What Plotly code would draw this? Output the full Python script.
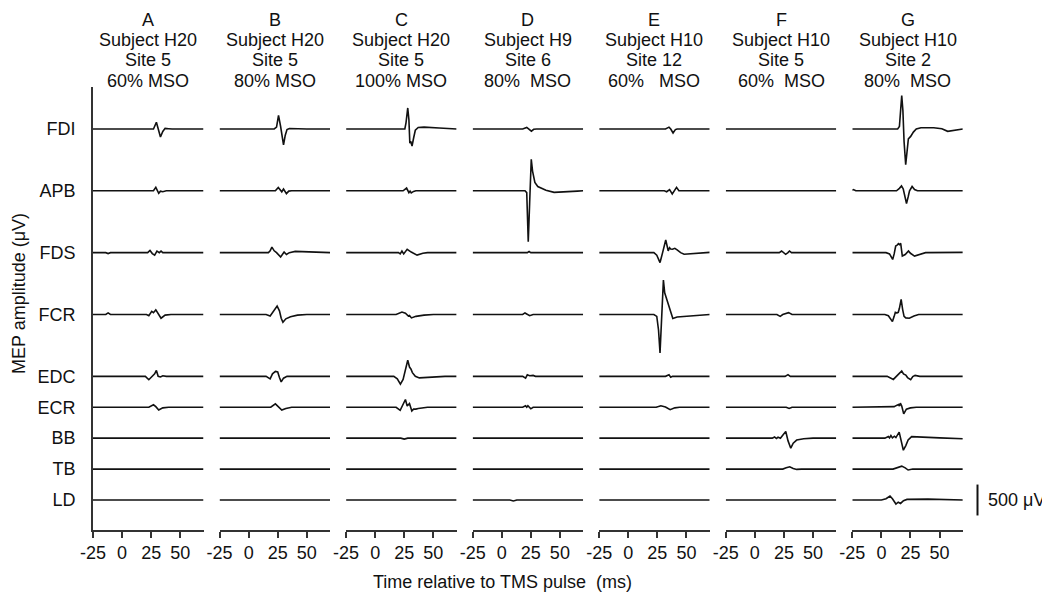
import plotly.graph_objects as go

# ---- data (times in ms, amplitudes in µV relative to each trace baseline) ----
letters = ["A", "B", "C", "D", "E", "F", "G"]
subjects = ["Subject H20", "Subject H20", "Subject H20", "Subject H9",
            "Subject H10", "Subject H10", "Subject H10"]
sites = ["Site 5", "Site 5", "Site 5", "Site 6", "Site 12", "Site 5", "Site 2"]
intensities = ["60% MSO", "80% MSO", "100% MSO", "80%\u00a0\u00a0MSO",
               "60%\u00a0\u00a0\u00a0MSO", "60%\u00a0\u00a0MSO", "80%\u00a0\u00a0MSO"]

muscles = ["FDI", "APB", "FDS", "FCR", "EDC", "ECR", "BB", "TB", "LD"]
offsets = [6000, 5000, 4000, 3000, 2000, 1500, 1000, 500, 0]
time_ticks = [-25, 0, 25, 50]
t_start, t_end = -25, 70

panel_A = {
    "FDI": [(27, 0), (29.5, 110), (31, 20), (33, -130), (35, -40), (37, 10), (40, 5), (43, 0)],
    "APB": [(27, 0), (29, 55), (30.5, -10), (31.5, -40), (33, -5), (35, -15), (38, 0)],
    "FDS": [(-14, 0), (-12, -15), (-10, 0), (22, 0), (24, 35), (26, -15), (28, -40), (30, 25),
            (32, 0), (33.5, 25), (35, 0)],
    "FCR": [(-14, 0), (-12, 25), (-10, 0), (21, 0), (23, -20), (25.5, 50), (27, 30), (29, 75),
            (31, 20), (33.5, -60), (37, -10), (42, 0)],
    "EDC": [(20, 0), (23, -55), (26, 0), (28, 40), (29.5, 95), (31, 0), (33, -10), (35, 10), (38, 0)],
    "ECR": [(23, 0), (27, 40), (29, 10), (31.5, -45), (35, -10), (40, 0)],
}
panel_B = {
    "FDI": [(22, 0), (24, 30), (25.7, 220), (27.5, 40), (28.5, -100), (30, -255), (31.5, -100),
            (33, -10), (35, 8), (40, 5), (50, 0)],
    "APB": [(23, 0), (25.5, 55), (27, 10), (28.5, -15), (30, 30), (31, 0), (32.5, -45), (34.5, -5), (37, 0)],
    "FDS": [(17, 0), (18.5, 30), (20, 90), (22, 30), (24, 0), (27.5, -70), (29.5, -20), (30.5, 10),
            (32.5, -30), (35, 0), (40, 20), (55, 5), (65, 0)],
    "FCR": [(15, 0), (18.5, -25), (21, 40), (24.5, 135), (26.5, 60), (28, -60), (29.5, -125),
            (32, -70), (36, -35), (42, -10), (50, 0)],
    "EDC": [(15, 0), (18.5, -40), (20.5, 40), (23, 80), (25, 70), (26.5, -20), (28, -90), (30, -30), (33, 0)],
    "ECR": [(19, 0), (23, 55), (25, 20), (28.5, -45), (32, -20), (37, 0)],
}
panel_C = {
    "FDI": [(25.5, 0), (26.5, 100), (28, 340), (29, 150), (29.8, -230), (30.5, -200), (31.7, -275),
            (33, -150), (34.5, -20), (37, 25), (42, 30), (55, 15), (65, 0)],
    "APB": [(24, 0), (27, 45), (28, 10), (29, -30), (30, -5), (31, -35), (33, -10), (35, 0)],
    "FDS": [(20, 0), (21.5, -20), (23, 25), (24.5, -20), (27.5, 55), (31, 10), (36, -40), (41, -10), (45, 0)],
    "FCR": [(18, 0), (23, 40), (26, 20), (28.5, -25), (29.5, -15), (31.2, -55), (35, -30), (42, -10), (50, 0)],
    "EDC": [(16, 0), (19, -40), (21.7, -125), (24, -50), (26, 100), (28, 260), (29.5, 150), (30.7, 120),
            (32, 60), (34.5, 0), (38, -25), (50, -10), (60, 0)],
    "ECR": [(18, 0), (21.5, -50), (24, 40), (26, 125), (27.5, 20), (29.5, 60), (31.5, -60), (33, -30),
            (35, -30), (37, -20), (45, 0)],
    "BB": [(22, 0), (25, -15), (28, 0)],
}
panel_D = {
    "FDI": [(18, 0), (21.5, 25), (23.5, 0), (25.5, -35), (27.5, -5), (30, 0)],
    "APB": [(20, 0), (21.5, -30), (22.8, -825), (24, -200), (25.4, 510), (26.5, 320), (28.5, 135),
            (31, 70), (34, 40), (38, 10), (45, -25), (55, -20), (65, -5), (70, 0)],
    "FDS": [(22, 0), (23.5, 20), (25, 0)],
    "FCR": [(18, 0), (20, 25), (22, 0), (24, -20), (27, 0)],
    "EDC": [(18, 0), (20.5, -30), (22, 25), (24, 10), (27, 15), (29, 0)],
    "ECR": [(18, 0), (20.5, 25), (21.5, 0), (22.5, 25), (25, -25), (27, 0)],
    "LD": [(7, 0), (10, -15), (13, 0)],
}
panel_E = {
    "FDI": [(32, 0), (35, 30), (36.5, 0), (38.5, -65), (40.5, -10), (42, 0)],
    "APB": [(31, 0), (33, -15), (35.5, 20), (37.8, -50), (40, 10), (41.5, 55), (43.5, 0)],
    "FDS": [(22, 0), (24.5, -40), (27.3, -160), (29.5, 0), (32.2, 205), (33.5, 100), (34.3, 30),
            (35.5, 80), (36.5, 60), (38, 55), (40, 70), (42, 45), (45, 0), (48, -25), (60, -15), (70, 5)],
    "FCR": [(22, 0), (24.5, -30), (26, -250), (27.3, -620), (28.5, -100), (29.5, 400), (30.2, 556),
            (31.3, 350), (32.2, 300), (33.5, 230), (34.5, 160), (36.5, 40), (38.3, -65), (42, -40),
            (55, -20), (70, 0)],
    "EDC": [(32, 0), (35, 25), (36.5, -15), (38, 0)],
    "ECR": [(24, 0), (28, 25), (32, 5), (36, -40), (40, -10), (44, 0)],
}
panel_F = {
    "FDS": [(21, 0), (23, 27), (25, -5), (26.5, -27), (28.5, 0), (29.8, 27), (31.5, 0)],
    "FCR": [(19, 0), (21.8, -30), (24, 0), (29, 30), (32, 0)],
    "EDC": [(26, 0), (28.5, 27), (30.5, 0)],
    "ECR": [(27, 0), (29.5, -20), (32, 0)],
    "BB": [(15, 0), (17, 20), (18.5, -5), (20, 15), (22, 0), (24.5, 60), (26.6, 108), (28.5, -40),
           (30.9, -162), (33, -80), (36, -30), (42, -10), (50, 0)],
    "TB": [(24, 0), (27, 20), (30, 38), (33, 10), (36, -5), (40, 0)],
}
panel_G = {
    "FDI": [(14, 0), (15.5, 40), (16.5, 300), (17.5, 540), (18.5, 300), (19.5, -200), (20.9, -578),
            (22, -300), (23.2, -160), (25.2, -120), (27.5, -50), (30, 0), (34, 20), (45, 20), (52, 5),
            (57, -38), (62, -25), (70, 0)],
    "APB": [(-25, 10), (-24, 20), (-22, 0), (13, 0), (15.5, 40), (17.3, 80), (18.8, 30), (20, -80),
            (21.6, -205), (23, -100), (24.2, 0), (26.4, 70), (28.5, 20), (31, 0)],
    "FDS": [(4, 0), (7, -20), (9.7, -110), (11, -20), (12.3, 108), (13.5, 120), (14.6, 145), (15.5, 130),
            (16.6, 150), (18, -55), (20.5, -30), (23.3, 27), (25, -10), (28.5, -55), (33, -25), (38, 0),
            (70, 5)],
    "FCR": [(3, 0), (6, -20), (9.5, -115), (11, -30), (12, 35), (13.5, 25), (14.5, 35), (15.5, 100),
            (17, 245), (18.3, 80), (19.5, -30), (21, -55), (24, -60), (28, -25), (32, 0)],
    "EDC": [(5, 0), (10.3, -50), (13, 10), (15, 40), (17.5, 86), (19, 40), (21, 20), (22.5, -20),
            (25.2, -55), (27, -5), (29, 15), (33, 0)],
    "ECR": [(8, 0), (11, 10), (13, 30), (14.8, 43), (15.5, 20), (16.3, 65), (17.5, 20), (19.2, -108),
            (21.5, -30), (25, -10), (30, 0)],
    "BB": [(3, 0), (6, 27), (7, 5), (8.2, 43), (9.5, 5), (11.2, 32), (12.5, 10), (15.3, 97), (16.5, 0),
           (18.9, -195), (21, -120), (23, -30), (26, 25), (35, 15), (50, 5), (70, -10)],
    "TB": [(-12, 5), (-10, 10), (-8, 0), (10, 0), (14, 20), (17.5, 48), (20.5, 20), (23, -15), (27, 0)],
    "LD": [(0, 0), (4, 20), (7.4, 65), (9.5, 20), (12.5, -65), (14.5, -35), (16.5, -55), (19, -10),
           (22, 10), (40, 15), (55, 10), (70, 0)],
}
panels = [panel_A, panel_B, panel_C, panel_D, panel_E, panel_F, panel_G]

# ---- figure ----
W, H = 1050, 600
SHIFT = 8  # the page puts the plot 8 px in from the top-left corner
FONT = "Liberation Sans, Arial, sans-serif"
INK = "#111111"
AX = "#333333"

left0, step, width = 93 - SHIFT, 126.55, 110.5
plot_top, plot_bot = 87 - SHIFT, 530 - SHIFT


def px(x):
    return x / W


def py(y):
    return 1 - y / H


fig = go.Figure()
for i, data in enumerate(panels):
    xa = "x" if i == 0 else f"x{i + 1}"
    for m, off in zip(muscles, offsets):
        pts = list(data.get(m, []))
        if not pts or pts[0][0] > t_start:
            pts = [(t_start, 0)] + pts
        if pts[-1][0] < t_end:
            pts = pts + [(t_end, 0)]
        fig.add_trace(go.Scatter(
            x=[p[0] for p in pts], y=[off + p[1] for p in pts],
            mode="lines", line=dict(color=INK, width=1.6),
            xaxis=xa, yaxis="y", showlegend=False, hoverinfo="skip"))

layout = dict(
    width=W, height=H, autosize=False, margin=dict(l=0, r=0, t=0, b=0, pad=0),
    paper_bgcolor="white", plot_bgcolor="white",
    font=dict(family=FONT, size=18, color=INK),
    showlegend=False,
)
for i in range(len(panels)):
    key = "xaxis" if i == 0 else f"xaxis{i + 1}"
    x0 = left0 + step * i
    layout[key] = dict(
        domain=[px(x0), px(x0 + width)], range=[t_start, t_end], anchor="y",
        showline=True, linecolor=AX, linewidth=1.6, automargin=False,
        ticks="outside", ticklen=6, tickwidth=1.6, tickcolor=AX,
        tickvals=time_ticks, ticktext=[str(v) for v in time_ticks],
        tickfont=dict(size=18, family=FONT, color=INK),
        showgrid=False, zeroline=False, fixedrange=True)

layout["yaxis"] = dict(
    domain=[py(plot_bot), py(plot_top)], range=[-485, 6679], anchor="x",
    showline=True, linecolor=AX, linewidth=1.6, ticks="", automargin=False,
    tickvals=offsets, ticktext=muscles, ticklabelstandoff=12,
    tickfont=dict(size=18, family=FONT, color=INK),
    showgrid=False, zeroline=False, fixedrange=True)
fig.update_layout(**layout)

# panel headings (kept just inside the top edge of the figure)
heading_rows = [letters, subjects, sites, intensities]
heading_y = [11.5, 32, 52.3, 72.5]
for i in range(len(panels)):
    cx = px(left0 + step * i + width / 2)
    for row, hy in zip(heading_rows, heading_y):
        fig.add_annotation(text=row[i], x=cx, y=py(hy), xref="paper", yref="paper",
                           xanchor="center", yanchor="middle", showarrow=False,
                           font=dict(size=18, family=FONT, color=INK))

# axis titles
fig.add_annotation(text="MEP amplitude (μV)", x=px(11), y=py(294 - SHIFT),
                   xref="paper", yref="paper", textangle=-90, xanchor="center", yanchor="middle",
                   showarrow=False, font=dict(size=18, family=FONT, color=INK))
fig.add_annotation(text="Time relative to TMS pulse\u00a0\u00a0(ms)", x=px(502 - SHIFT), y=py(582 - SHIFT),
                   xref="paper", yref="paper", xanchor="center", yanchor="middle", showarrow=False,
                   font=dict(size=18, family=FONT, color=INK))

# 500 µV scale bar
fig.add_shape(type="line", xref="paper", yref="y", x0=px(977.5 - SHIFT), x1=px(977.5 - SHIFT),
              y0=-250, y1=250, line=dict(color=INK, width=2))
fig.add_annotation(text="500 μV", x=px(986 - SHIFT), y=0, xref="paper", yref="y",
                   xanchor="left", yanchor="middle", showarrow=False,
                   font=dict(size=18, family=FONT, color=INK))

fig.write_html("out.html")
